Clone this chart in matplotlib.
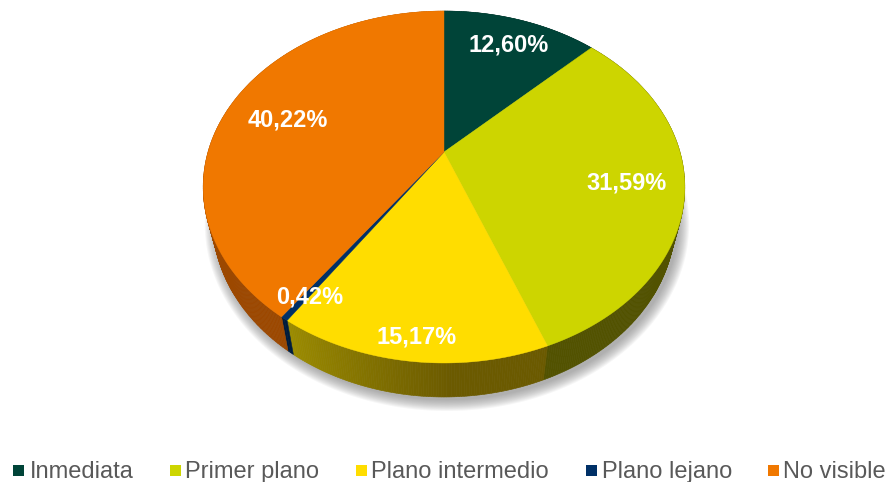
import numpy as np
import matplotlib
matplotlib.use("Agg")
import matplotlib.pyplot as plt
from matplotlib.colors import to_rgb
from matplotlib.patches import Polygon, Rectangle

plt.rcParams['font.family'] = ['Liberation Sans', 'DejaVu Sans']

# ======================= DONNEES =======================
categories = ["Inmediata", "Primer plano", "Plano intermedio", "Plano lejano", "No visible"]
values     = [12.60, 31.59, 15.17, 0.42, 40.22]
labels     = ["12,60%", "31,59%", "15,17%", "0,42%", "40,22%"]
colors     = ["#004438", "#CDD500", "#FFDD00", "#003067", "#F07800"]
wall_right = ["#002a22", "#525200", "#6b5a00", "#001c3c", "#9c4800"]
wall_left  = ["#002a22", "#525200", "#9c8c00", "#001c3c", "#c46200"]
# =======================================================

# position (px) des textes, legende
LABEL_XY  = [(509, 45), (627, 183), (417, 337), (310, 297), (288, 120)]
SWATCH_X  = [13, 170, 356, 586, 768]
LEGTEXT_X = [30, 185, 371, 602, 783]

# perspective du disque (reglee sur l'image, en pixels)
CX, CY = 444.0, 152.0
RX, RY, KP = 236.0, 169.0, 0.199
DEPTH, SHRINK = 34.0, 0.96


def project(theta, shrink=1.0, dy=0.0):
    """angle horaire depuis le haut [rad] -> pixels sur le disque en perspective."""
    w = 1.0 + KP * np.cos(theta)
    x = CX + shrink * RX * np.sin(theta) / w
    y = CY - RY * np.cos(theta) / w + dy
    return x, y


def mix(c1, c2, f):
    a, b = np.array(to_rgb(c1)), np.array(to_rgb(c2))
    return tuple(a + (b - a) * f)


fig = plt.figure(figsize=(8.89, 4.82), dpi=100)
ax = fig.add_axes([0, 0, 1, 1])
ax.set_xlim(0, 889); ax.set_ylim(482, 0); ax.axis("off")

edges = np.concatenate([[0.0], np.cumsum(values)]) / np.sum(values) * 2 * np.pi

# Ombre portee -----------------------------------------------------------
full = np.linspace(0, 2 * np.pi, 361)
sx, sy = project(full, SHRINK, DEPTH)
for grow in np.linspace(11, 0, 12):
    px = CX + (sx - CX) * (1 + grow / 231.0) + 3
    py = 221 + (sy - 221) * (1 + grow / 176.0) + 3
    ax.add_patch(Polygon(np.c_[px, py], closed=True, fc="#808080", ec="none",
                         alpha=0.07, zorder=1))

# Flanc : bandes etroites, du fond vers l'avant ---------------------------
for i in range(len(values)):
    t = np.linspace(edges[i], edges[i + 1], max(3, int(np.degrees(edges[i + 1] - edges[i])) * 2))
    for j in range(len(t) - 1):
        f = np.clip((j / (len(t) - 1) - 0.35) / 0.65, 0, 1)
        col = mix(wall_right[i], wall_left[i], f)
        x0, y0 = project(t[j:j + 2])
        x1, y1 = project(t[j:j + 2], SHRINK, DEPTH)
        ax.add_patch(Polygon(np.c_[np.r_[x0, x1[::-1]], np.r_[y0, y1[::-1]]], closed=True,
                             fc=col, ec=col, lw=0.4, zorder=2))

# Face superieure ---------------------------------------------------------
for i in range(len(values)):
    t = np.linspace(edges[i], edges[i + 1], 200)
    x, y = project(t)
    ax.add_patch(Polygon(np.c_[np.r_[CX, x], np.r_[CY, y]], closed=True,
                         fc=colors[i], ec=colors[i], lw=0.3, zorder=3))

for (lx, ly), txt in zip(LABEL_XY, labels):
    ax.text(lx, ly, txt, color="white", fontsize=17, fontweight="bold",
            ha="center", va="center", zorder=5)

# Legende -----------------------------------------------------------------
for sw, tx, name, col in zip(SWATCH_X, LEGTEXT_X, categories, colors):
    ax.add_patch(Rectangle((sw, 465), 11, 11, fc=col, ec="none", zorder=5))
    ax.text(tx, 472, name, color="#595959", fontsize=17, ha="left", va="center", zorder=5)

fig.savefig("out.png", dpi=100)
plt.close(fig)
